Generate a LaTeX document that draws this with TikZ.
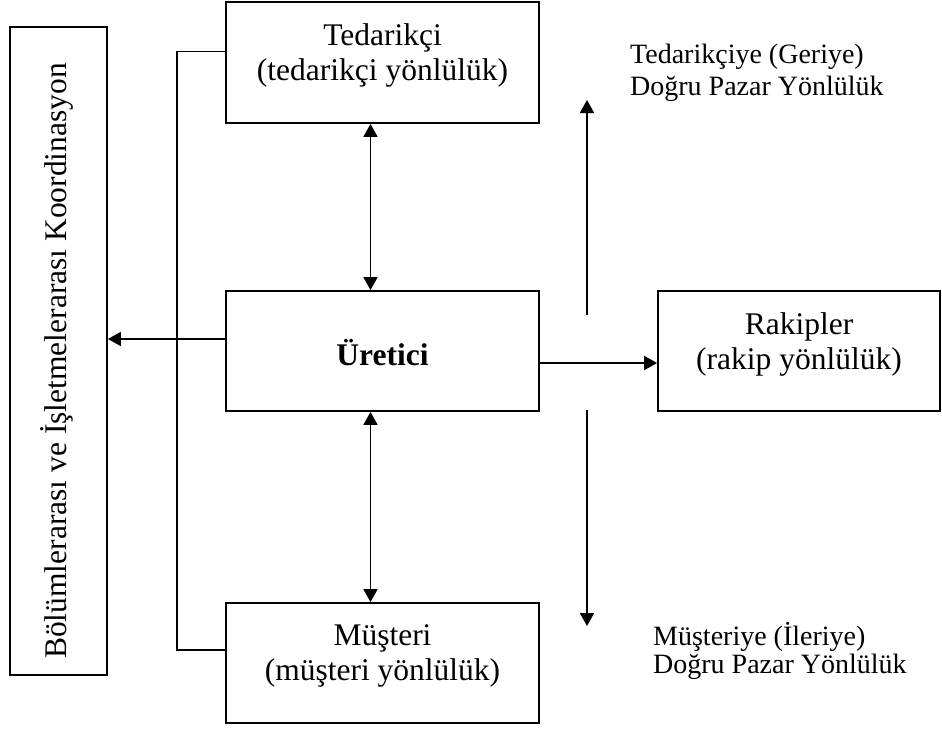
\documentclass[tikz,border=0pt]{standalone}
\usepackage{fontspec}
\setmainfont{Liberation Serif}
\usetikzlibrary{arrows.meta}
\newcommand\boxfont{\fontsize{31.5}{35}\selectfont}
\newcommand\sidefont{\fontsize{28}{32}\selectfont}
\newcommand\sidefonttight{\fontsize{28}{28}\selectfont}
\begin{document}
\begin{tikzpicture}[x=1pt,y=-1pt,
  panel/.style={draw, line width=1.8pt, inner sep=0pt, minimum height=120pt},
  paneltext/.style={inner sep=0pt, align=center, font=\boxfont},
  sidetext/.style={inner sep=0pt, align=left, font=\sidefont, anchor=north west},
  link/.style={line width=1.8pt},
  tip/.style={-{Triangle[length=13pt,width=14pt]}},
  twotip/.style={{Triangle[length=13pt,width=14pt]}-{Triangle[length=13pt,width=14pt]}}]
\useasboundingbox (0,0) rectangle (942,729);

% boxes
\node[panel, minimum width=97pt, minimum height=648pt] (koord) at (58.5,351) {};
\node[paneltext, rotate=90] (koordtext) at (57,361) {Bölümlerarası ve İşletmelerarası Koordinasyon};

\node[panel, minimum width=313pt, minimum height=121pt] (ted) at (382.5,62.5) {};
\node[paneltext, yshift=7pt] (tedtext) at (ted.center) {Tedarikçi\\(tedarikçi yönlülük)};

\node[panel, minimum width=313pt] (ure) at (382.5,351) {};
\node[paneltext, font=\boxfont\bfseries, yshift=-2pt] (uretext) at (ure.center) {Üretici};

\node[panel, minimum width=313pt] (mus) at (382.5,663) {};
\node[paneltext, yshift=7pt] (mustext) at (mus.center) {Müşteri\\(müşteri yönlülük)};

\node[panel, minimum width=282pt] (rak) at (799,351) {};
\node[paneltext, yshift=7pt] (raktext) at (rak.center) {Rakipler\\(rakip yönlülük)};

% side labels
\node[sidetext] (geri) at (630,44) {Tedarikçiye (Geriye)\\Doğru Pazar Yönlülük};
\node[sidetext, font=\sidefonttight] (ileri) at (653,622) {Müşteriye (İleriye)\\Doğru Pazar Yönlülük};

% connectors
\draw[link, twotip] ([xshift=-12pt]ted.south) -- ([xshift=-12pt]ure.north);
\draw[link, twotip] ([xshift=-12pt]ure.south) -- ([xshift=-12pt]mus.north);
\draw[link, tip] ([yshift=12pt]ure.west) -- ([yshift=12pt]ure.west -| koord.east);
\draw[link, tip] ([yshift=-12pt]ure.east) -- ([yshift=-12pt]ure.east -| rak.west);
\draw[link] ([yshift=11pt]ted.west) -- ++(-48,0) |- ([yshift=13pt]mus.west);

% market direction arrows
\coordinate (upstart) at (587,315);
\coordinate (upend) at (587,100);
\coordinate (downstart) at (587,410);
\coordinate (downend) at (587,626);
\draw[link, tip] (upstart) -- (upend);
\draw[link, tip] (downstart) -- (downend);
\end{tikzpicture}
\end{document}
